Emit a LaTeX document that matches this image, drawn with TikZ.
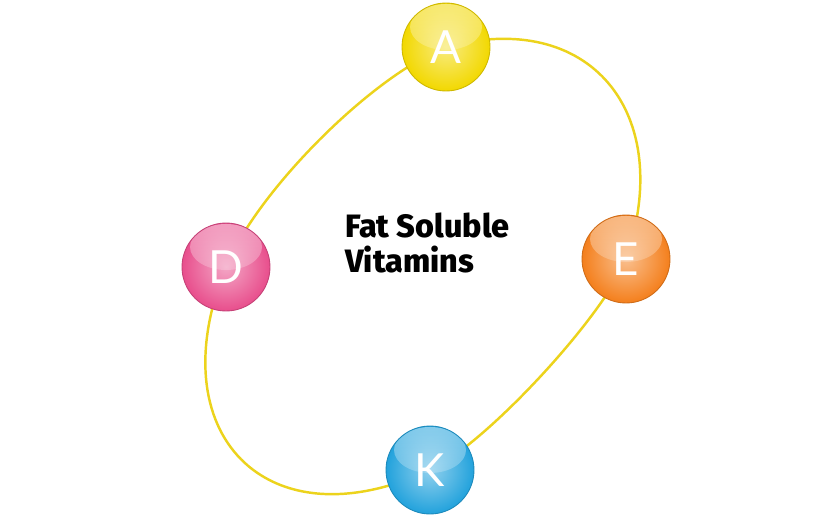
\documentclass[tikz,border=0pt]{standalone}
\usepackage{fontspec}
\setmainfont{Fira Sans}
\newfontfamily\letterfont{Lato}
\newfontfamily\titlefont{Fira Sans ExtraBold}
\usetikzlibrary{fadings,backgrounds}

\definecolor{ringyellow}{HTML}{ECD31C}
\definecolor{vitA}{HTML}{F2D800}
\definecolor{vitE}{HTML}{F47F1C}
\definecolor{vitD}{HTML}{E84E8C}
\definecolor{vitK}{HTML}{22A2DC}

\tikzset{
  ball/.style={circle, minimum size=1.76cm, inner sep=0pt,
    draw=#1!85!black, line width=0.5pt,
    inner color=#1!50!white, outer color=#1,
    font=\letterfont\fontsize{26}{26}\selectfont, text=white,
    path picture={\fill[white, opacity=0.45, path fading=south]
      (path picture bounding box.center) ++(0,0.4cm)
      ellipse [x radius=0.72cm, y radius=0.46cm];}},
  ring/.style={ringyellow, line width=1.4pt},
  title/.style={font=\titlefont\fontsize{18.4}{19.8}\selectfont,
    align=left, anchor=base west, inner sep=0pt}
}

\begin{document}
\begin{tikzpicture}[x=0.02cm, y=-0.02cm]
  \useasboundingbox (0,0) rectangle (820,520);

  % the four vitamins
  \node[ball=vitA] (vitA) at (446,47) {A};
  \node[ball=vitE] (vitE) at (626,259) {E};
  \node[ball=vitD] (vitD) at (226,267) {D};
  \node[ball=vitK] (vitK) at (430,470) {K};

  % the ring behind them
  \begin{scope}[on background layer]
    \draw[ring] (vitA.center) .. controls (590,8) and (676,113) .. (vitE.center)
      .. controls (605,315) and (485,445) .. (vitK.center)
      .. controls (266,546) and (158,433) .. (vitD.center)
      .. controls (256,193) and (370,77) .. (vitA.center) -- cycle;
  \end{scope}

  \node[title] (label) at (345,272) {Fat Soluble\\Vitamins};
\end{tikzpicture}
\end{document}
